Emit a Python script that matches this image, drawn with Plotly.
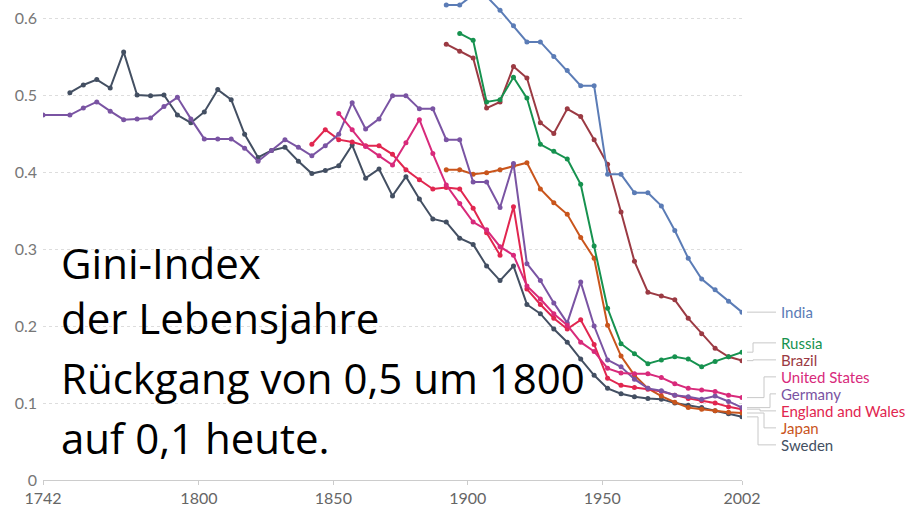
import plotly.graph_objects as go

# ---------------- data ----------------
periods = [1742, 1752, 1757, 1762, 1767, 1772, 1777, 1782, 1787, 1792, 1797,
           1802, 1807, 1812, 1817, 1822, 1827, 1832, 1837, 1842, 1847,
           1852, 1857, 1862, 1867, 1872, 1877, 1882, 1887, 1892, 1897,
           1902, 1907, 1912, 1917, 1922, 1927, 1932, 1937, 1942, 1947,
           1952, 1957, 1962, 1967, 1972, 1977, 1982, 1987, 1992, 1997, 2002]

countries = ["India", "Russia", "Brazil", "United States", "Germany",
             "England and Wales", "Japan", "Sweden"]

start_years = {"India": 1892, "Russia": 1897, "Brazil": 1892, "United States": 1852,
               "Germany": 1742, "England and Wales": 1842, "Japan": 1892, "Sweden": 1752}

india = [0.617, 0.617, 0.630, 0.628, 0.610, 0.590, 0.569, 0.569, 0.550, 0.532, 0.512,
         0.512, 0.397, 0.397, 0.373, 0.373, 0.356, 0.324, 0.288, 0.261, 0.247, 0.232, 0.218]
russia = [0.580, 0.571, 0.491, 0.494, 0.523, 0.496, 0.436, 0.427, 0.417, 0.384, 0.304,
          0.223, 0.177, 0.164, 0.151, 0.156, 0.160, 0.157, 0.147, 0.154, 0.160, 0.166]
brazil = [0.566, 0.557, 0.548, 0.483, 0.491, 0.537, 0.522, 0.464, 0.450, 0.482, 0.472,
          0.442, 0.410, 0.348, 0.284, 0.244, 0.239, 0.234, 0.210, 0.190, 0.171, 0.160, 0.155]
united_states = [0.476, 0.455, 0.433, 0.421, 0.409, 0.438, 0.468, 0.424, 0.383, 0.359,
                 0.335, 0.325, 0.303, 0.292, 0.252, 0.235, 0.216, 0.201, 0.179, 0.167,
                 0.145, 0.139, 0.138, 0.138, 0.133, 0.125, 0.119, 0.117, 0.115, 0.110, 0.107]
germany = [0.474, 0.474, 0.483, 0.491, 0.479, 0.468, 0.469, 0.470, 0.485, 0.497, 0.469,
           0.443, 0.443, 0.443, 0.431, 0.414, 0.428, 0.442, 0.432, 0.421, 0.434,
           0.449, 0.490, 0.456, 0.469, 0.499, 0.499, 0.482, 0.482, 0.442, 0.442,
           0.387, 0.387, 0.354, 0.411, 0.281, 0.259, 0.230, 0.204, 0.257, 0.200,
           0.156, 0.147, 0.131, 0.119, 0.116, 0.110, 0.108, 0.105, 0.109, 0.102, 0.094]
england_wales = [0.436, 0.455, 0.442, 0.439, 0.434, 0.434, 0.423, 0.403, 0.390, 0.378,
                 0.380, 0.378, 0.353, 0.321, 0.292, 0.355, 0.248, 0.228, 0.210, 0.196,
                 0.208, 0.176, 0.132, 0.123, 0.120, 0.118, 0.115, 0.110, 0.106, 0.103,
                 0.100, 0.095, 0.092]
japan = [0.403, 0.403, 0.397, 0.399, 0.403, 0.408, 0.412, 0.378, 0.360, 0.345, 0.315,
         0.288, 0.201, 0.161, 0.136, 0.119, 0.109, 0.101, 0.094, 0.092, 0.090, 0.088, 0.087]
sweden = [0.503, 0.513, 0.520, 0.509, 0.556, 0.500, 0.499, 0.500, 0.474, 0.464,
          0.478, 0.507, 0.494, 0.449, 0.419, 0.428, 0.432, 0.414, 0.398, 0.402,
          0.408, 0.435, 0.392, 0.404, 0.369, 0.394, 0.365, 0.339, 0.335, 0.314,
          0.306, 0.278, 0.259, 0.278, 0.228, 0.216, 0.196, 0.179, 0.157, 0.136,
          0.119, 0.112, 0.108, 0.106, 0.105, 0.100, 0.097, 0.094, 0.090, 0.086, 0.082]

values = {"India": india, "Russia": russia, "Brazil": brazil, "United States": united_states,
          "Germany": germany, "England and Wales": england_wales, "Japan": japan,
          "Sweden": sweden}

x_ticks = [1742, 1800, 1850, 1900, 1950, 2002]
y_ticks = [0, 0.1, 0.2, 0.3, 0.4, 0.5, 0.6]
y_tick_text = ["0", "0.1", "0.2", "0.3", "0.4", "0.5", "0.6"]

note_lines = ["Gini-Index", "der Lebensjahre", "Rückgang von 0,5 um 1800", "auf 0,1 heute."]

# ---------------- style ----------------
colors = {"India": "#5b7cb6", "Russia": "#16924f", "Brazil": "#9b3a43",
          "United States": "#d82a7b", "Germany": "#7a54a3",
          "England and Wales": "#e1264f", "Japan": "#c9551c", "Sweden": "#434f62"}

W, H = 908, 507
L, R, T, B = 43, 166, 0, 27
PW, PH = W - L - R, H - T - B
Y_MAX = 0.6234

fig = go.Figure()
draw_order = ["Sweden", "Japan", "England and Wales", "Germany", "United States",
              "Brazil", "Russia", "India"]
for c in draw_order:
    i0 = periods.index(start_years[c])
    fig.add_trace(go.Scatter(
        x=periods[i0:i0 + len(values[c])], y=values[c], mode="lines+markers",
        name=c, line=dict(color=colors[c], width=2),
        marker=dict(color=colors[c], size=5), showlegend=False))

# ---- end labels with simple collision avoidance ----
gap = 17 / PH * Y_MAX
ends = sorted([(values[c][-1], c) for c in countries], reverse=True)
clusters = [[v, [c]] for v, c in ends]  # center, members


def positions(cl):
    n = len(cl[1])
    return [cl[0] + gap * ((n - 1) / 2 - k) for k in range(n)]


changed = True
while changed:
    changed = False
    for k in range(len(clusters) - 1):
        a, b = clusters[k], clusters[k + 1]
        if positions(a)[-1] - positions(b)[0] < gap - 1e-9:
            members = a[1] + b[1]
            center = sum(values[m][-1] for m in members) / len(members)
            clusters[k:k + 2] = [[center, members]]
            changed = True
            break

label_y = {}
for cl in clusters:
    for m, p in zip(cl[1], positions(cl)):
        label_y[m] = p

elbow_px = {"India": 760, "Russia": 753, "Brazil": 753, "United States": 764,
            "Germany": 770, "England and Wales": 760, "Japan": 764, "Sweden": 758}


def px_to_paper_x(px):
    return (px - L) / PW


def val_to_paper_y(v):
    return v / Y_MAX


shapes = []
annotations = []
for c in countries:
    y0 = val_to_paper_y(values[c][-1])
    y1 = val_to_paper_y(label_y[c])
    xa, xb, xc = px_to_paper_x(747), px_to_paper_x(elbow_px[c]), px_to_paper_x(776)
    shapes.append(dict(type="path", xref="paper", yref="paper",
                       path=f"M {xa} {y0} L {xb} {y0} L {xb} {y1} L {xc} {y1}",
                       line=dict(color="#c8c8c8", width=1)))
    annotations.append(dict(x=px_to_paper_x(779), y=y1, xref="paper", yref="paper",
                            xanchor="left", yanchor="middle", showarrow=False,
                            text=c, font=dict(family="Lato", size=15, color=colors[c])))

# ---- big note ----
note_centers_px = [262, 317, 377, 437]
for line, cy in zip(note_lines, note_centers_px):
    annotations.append(dict(x=px_to_paper_x(59), y=1 - (cy - T) / PH, xref="paper",
                            yref="paper", xanchor="left", yanchor="middle",
                            showarrow=False, text=line,
                            font=dict(family="Open Sans", size=42, color="#000000")))

fig.update_layout(
    width=W, height=H, autosize=False,
    margin=dict(l=L, r=R, t=T, b=B, pad=0),
    paper_bgcolor="white", plot_bgcolor="white",
    shapes=shapes, annotations=annotations,
    xaxis=dict(range=[1742, 2002], tickvals=x_ticks, showgrid=False, zeroline=False,
               showline=True, linecolor="#cccccc", linewidth=1,
               ticks="outside", ticklen=4, tickcolor="#cccccc",
               tickfont=dict(family="Lato", size=16, color="#666666")),
    yaxis=dict(range=[0, Y_MAX], tickvals=y_ticks, ticktext=y_tick_text,
               showgrid=True, gridcolor="#dddddd", griddash="3px,3px", gridwidth=1,
               zeroline=False, ticks="", ticklabelstandoff=5,
               tickfont=dict(family="Lato", size=16, color="#777777")),
)

fig.write_html("out.html", config={"displayModeBar": False},
               post_script="document.body.style.margin='0';")
